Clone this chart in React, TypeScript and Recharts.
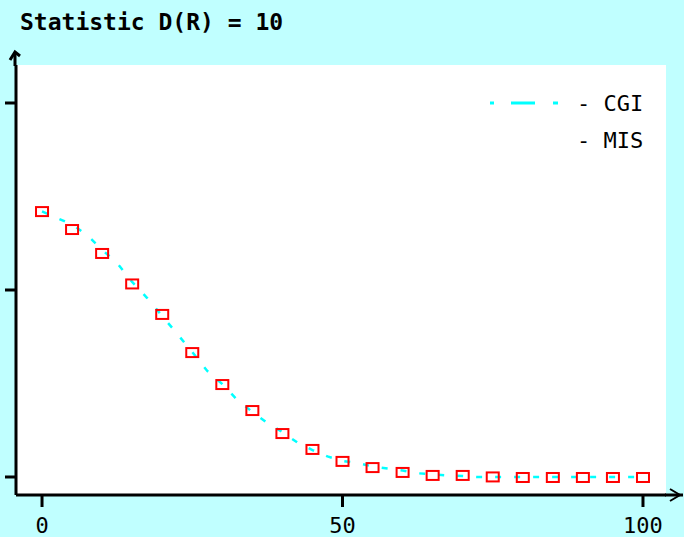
import { ComposedChart, Line, XAxis, YAxis, CartesianGrid } from 'recharts'

// MIS: red point markers every 5 units
const misX = [0, 5, 10, 15, 20, 25, 30, 35, 40, 45, 50, 55, 60, 65, 70, 75, 80, 85, 90, 95, 100]
const misY = [1.422, 1.326, 1.198, 1.035, 0.872, 0.668, 0.497, 0.358, 0.235, 0.15, 0.086, 0.053, 0.027, 0.011, 0.011, 0.003, 0, 0, 0, 0, 0]

// CGI: cyan dashed curve every 2.5 units
const cgiX = [0, 2.5, 5, 7.5, 10, 12.5, 15, 17.5, 20, 22.5, 25, 27.5, 30, 32.5, 35, 37.5, 40, 42.5, 45, 47.5, 50,
  52.5, 55, 57.5, 60, 62.5, 65, 67.5, 70, 72.5, 75, 77.5, 80, 82.5, 85, 87.5, 90, 92.5, 95, 97.5, 100]
const cgiY = [1.42, 1.385, 1.35, 1.294, 1.215, 1.144, 1.043, 0.957, 0.861, 0.765, 0.668, 0.567, 0.497, 0.412, 0.348, 0.289, 0.24, 0.184, 0.144, 0.11, 0.086,
  0.075, 0.056, 0.045, 0.035, 0.02, 0.014, 0.008, 0.005, 0, 0, 0, 0, 0, 0, 0, 0, 0, 0, 0, 0]

const xTicks = [0, 50, 100]
const yTicks = [0, 1, 2]

const mis = misX.map((x, i) => ({ x, v: misY[i] }))
const cgi = cgiX.map((x, i) => ({ x, v: cgiY[i] }))

const BG = '#c0ffff'
const MONO = '"DejaVu Sans Mono", monospace'

// eslint-disable-next-line @typescript-eslint/no-explicit-any
const Marker = (props: any) => {
  const { cx, cy, index } = props
  if (cx == null || cy == null) return <g key={index} />
  return <rect key={index} x={cx - 6} y={cy - 4} width={12} height={9} fill="none" stroke="#ff0000" strokeWidth={2} />
}

export default function App() {
  return (
    <div style={{ position: 'absolute', left: 0, top: 0, width: 684, height: 537, background: BG, overflow: 'hidden' }}>
      <ComposedChart width={684} height={537} margin={{ top: 65, right: 18, bottom: 0, left: 0 }}>
        <CartesianGrid fill="#ffffff" horizontal={false} vertical={false} />
        <XAxis
          type="number" dataKey="x" domain={[-4.33, 103.83]} allowDataOverflow
          ticks={xTicks} height={42} tickSize={12} tickMargin={10}
          axisLine={{ stroke: '#000', strokeWidth: 3 }} tickLine={{ stroke: '#000', strokeWidth: 3 }}
          tick={{ fill: '#000', fontSize: 22, fontFamily: MONO }}
        />
        <YAxis
          type="number" dataKey="v" domain={[-0.0963, 2.2032]} allowDataOverflow
          ticks={yTicks} width={16} tickSize={11} tickFormatter={() => ''}
          axisLine={{ stroke: '#000', strokeWidth: 3 }} tickLine={{ stroke: '#000', strokeWidth: 3 }}
        />
        <Line data={mis} dataKey="v" stroke="none" dot={<Marker />} activeDot={false} isAnimationActive={false} />
        <Line data={cgi} dataKey="v" type="linear" stroke="#00ffff" strokeWidth={2.5} strokeDasharray="6 13" dot={false} activeDot={false} isAnimationActive={false} />
      </ComposedChart>
      <svg width={684} height={537} style={{ position: 'absolute', left: 0, top: 0, pointerEvents: 'none' }}>
        <line x1={15} y1={66} x2={15} y2={52} stroke="#000" strokeWidth={3} />
        <polyline points="10,60 15,52 20,56" fill="none" stroke="#000" strokeWidth={3} />
        <line x1={665} y1={495} x2={683} y2={495} stroke="#000" strokeWidth={3} />
        <polyline points="670,489 680,495 670,501" fill="none" stroke="#000" strokeWidth={2} />
        <line x1={490} y1={103} x2={558} y2={103} stroke="#00ffff" strokeWidth={3} strokeDasharray="4 17 24 18 5" />
        <text x={577} y={111} fontSize={22} fontFamily={MONO} fill="#000">- CGI</text>
        <text x={577} y={148} fontSize={22} fontFamily={MONO} fill="#000">- MIS</text>
        <text x={20} y={30} fontSize={23} fontFamily={MONO} fontWeight="bold" fill="#000">Statistic D(R) = 10</text>
      </svg>
    </div>
  )
}
